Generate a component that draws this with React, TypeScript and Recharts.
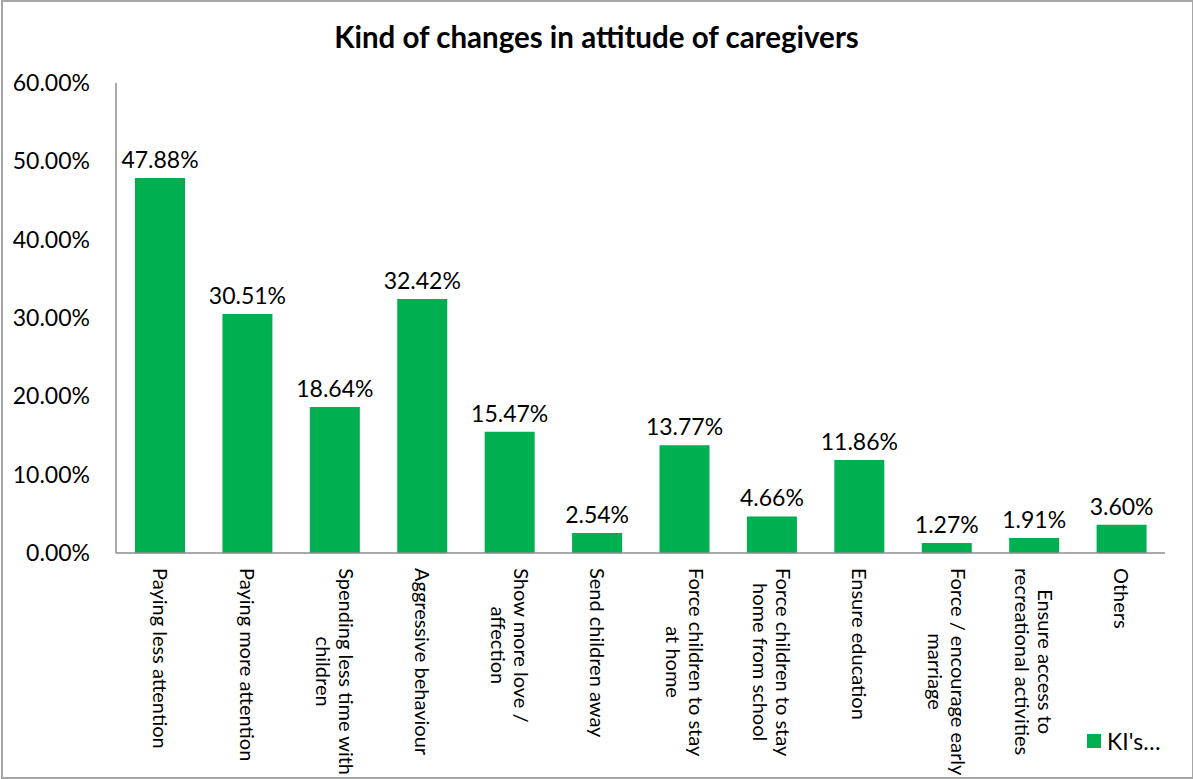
import { BarChart, Bar, XAxis, YAxis, LabelList } from "recharts";

// ── Data ──────────────────────────────────────────────────────────────────────

const CATEGORIES = [
  "Paying less attention",
  "Paying more attention",
  "Spending less time with\nchildren",
  "Aggressive behaviour",
  "Show more love /\naffection",
  "Send children away",
  "Force children to stay\nat home",
  "Force children to stay\nhome from school",
  "Ensure education",
  "Force / encourage early\nmarriage",
  "Ensure access to\nrecreational activities",
  "Others",
];

const KI_VALUES = [47.88, 30.51, 18.64, 32.42, 15.47, 2.54, 13.77, 4.66, 11.86, 1.27, 1.91, 3.6];

const Y_TICKS = [0, 10, 20, 30, 40, 50, 60];

const SERIES_NAME = "KI's…";
const TITLE = "Kind of changes in attitude of caregivers";

const data = CATEGORIES.map((name, i) => ({ name, value: KI_VALUES[i] }));

// ── Styles ────────────────────────────────────────────────────────────────────

const FONT = "Lato, 'Open Sans', sans-serif";
const GREEN = "#00B050";
const AXIS = "#8c8c8c";
const TICK_SIZE = 23;
const CAT_SIZE = 20;
const CAT_LINE = 23;

const pct = (v: number) => `${Number(v).toFixed(2)}%`;

let ctx: CanvasRenderingContext2D | null = null;
function textWidth(s: string): number {
  if (!ctx) ctx = document.createElement("canvas").getContext("2d");
  if (!ctx) return s.length * CAT_SIZE * 0.45;
  ctx.font = `${CAT_SIZE}px Lato`;
  return ctx.measureText(s).width;
}

// rotated category labels, block starts just under the axis, lines centred
function CategoryTick({ x, y, payload }: any) {
  const lines = String(payload.value).split("\n");
  const maxW = Math.max(...lines.map(textWidth));
  const mid = 15 + maxW / 2;
  return (
    <g transform={`translate(${x},${y})`}>
      <text
        transform="rotate(90)"
        fontSize={CAT_SIZE}
        fontFamily={FONT}
        fill="#000"
        textAnchor="middle"
      >
        {lines.map((l, i) => (
          <tspan key={i} x={mid} y={(i - (lines.length - 1) / 2) * CAT_LINE} dy="0.35em">
            {l}
          </tspan>
        ))}
      </text>
    </g>
  );
}

export default function App() {
  return (
    <div
      style={{
        position: "absolute",
        left: 0,
        top: 0,
        width: 1193,
        height: 779,
        background: "#fff",
        fontFamily: FONT,
      }}
    >
      <div
        style={{
          position: "absolute",
          left: 1,
          top: 0,
          width: 1189,
          height: 775,
          border: `2px solid #a6a6a6`,
        }}
      />
      <div
        style={{
          position: "absolute",
          left: 0,
          top: 19,
          width: 1193,
          textAlign: "center",
          fontSize: 29.5,
          fontWeight: 700,
          color: "#000",
        }}
      >
        {TITLE}
      </div>

      <BarChart
        width={1193}
        height={779}
        data={data}
        margin={{ top: 83, right: 28, bottom: 26, left: 0 }}
        style={{ position: "absolute", left: 0, top: 0 }}
      >
        <XAxis
          dataKey="name"
          interval={0}
          height={200}
          tickSize={0}
          tickMargin={0}
          tickLine={false}
          axisLine={{ stroke: AXIS, strokeWidth: 1.5 }}
          tick={<CategoryTick />}
        />
        <YAxis
          domain={[0, 60]}
          ticks={Y_TICKS}
          width={116}
          tickSize={0}
          tickMargin={26}
          tickLine={false}
          axisLine={{ stroke: AXIS, strokeWidth: 1.5 }}
          tickFormatter={pct}
          tick={{ fontSize: TICK_SIZE, fill: "#000", fontFamily: FONT }}
        />
        <Bar dataKey="value" fill={GREEN} barSize={50} isAnimationActive={false}>
          <LabelList
            dataKey="value"
            position="top"
            offset={10}
            formatter={(v: any) => pct(v)}
            style={{ fontSize: TICK_SIZE, fill: "#000", fontFamily: FONT }}
          />
        </Bar>
      </BarChart>

      <div
        style={{
          position: "absolute",
          left: 1087,
          top: 727,
          display: "flex",
          alignItems: "center",
          fontSize: TICK_SIZE,
          color: "#000",
        }}
      >
        <span style={{ width: 14, height: 14, background: GREEN, marginRight: 6 }} />
        {SERIES_NAME}
      </div>
    </div>
  );
}
